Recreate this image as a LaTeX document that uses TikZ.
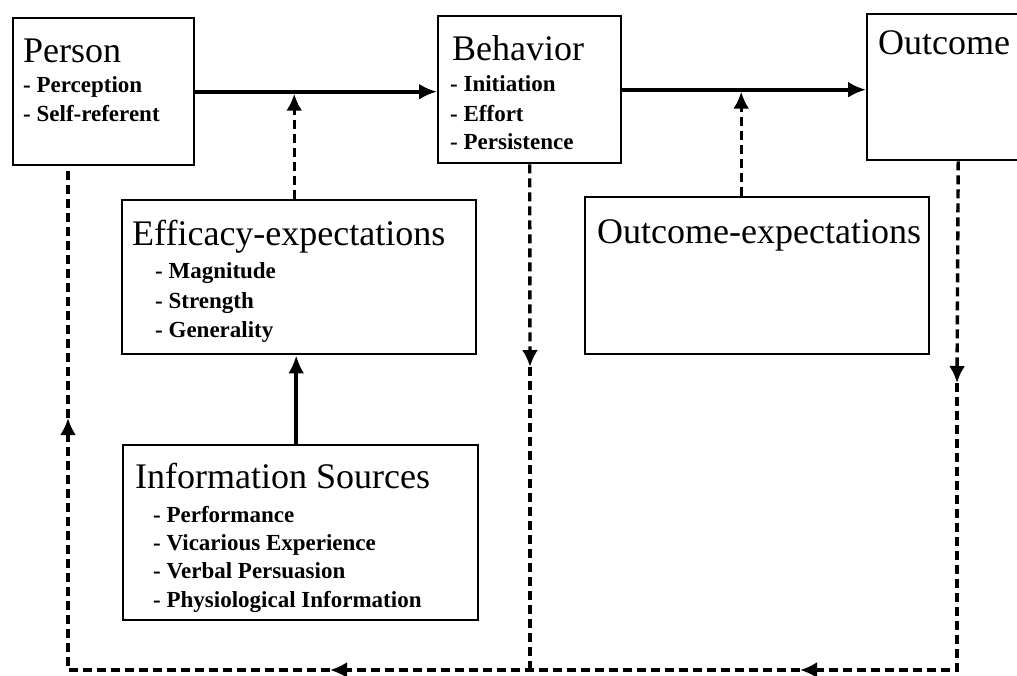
\documentclass[tikz,border=0pt]{standalone}
\usepackage{fontspec}
\setmainfont{Liberation Serif}
\usetikzlibrary{arrows.meta}
\begin{document}
\begin{tikzpicture}[x=1pt,y=-1pt,
  box/.style={draw=black, line width=2.4pt, rectangle, inner sep=0pt, anchor=north west},
  ttl/.style={anchor=base west, inner sep=0pt, font=\fontsize{36}{40}\selectfont},
  itm/.style={anchor=base west, inner sep=0pt, font=\fontsize{23}{26}\selectfont\bfseries},
  solidarrow/.style={line width=3.8pt, -{Latex[length=18pt,width=16pt]}},
  dashline/.style={line width=3.4pt, dash pattern=on 9pt off 5pt},
  dasharrow/.style={dashline, -{Latex[length=17pt,width=16pt]}},
]
\useasboundingbox (0,0) rectangle (1017,675);
\fill[white] (0,0) rectangle (1017,675);
\clip (0,0) rectangle (1017,675);

% boxes
\node[box, minimum width=181pt, minimum height=147pt] (person) at (12,17) {};
\node[box, minimum width=183pt, minimum height=147pt] (behavior) at (437,15) {};
\node[box, minimum width=182pt, minimum height=146pt] (outcome) at (866,13) {};
\node[box, minimum width=354pt, minimum height=154pt] (eff) at (121,199) {};
\node[box, minimum width=344pt, minimum height=157pt] (oexp) at (584,196) {};
\node[box, minimum width=355pt, minimum height=175pt] (info) at (122,444) {};

% texts
\node[ttl] (tperson) at (23,62) {Person};
\node[itm] (p1) at (23,92) {- Perception};
\node[itm] (p2) at (23,121) {- Self-referent};

\node[ttl] (tbeh) at (452,60) {Behavior};
\node[itm] (b1) at (450,91) {- Initiation};
\node[itm] (b2) at (450,121) {- Effort};
\node[itm] (b3) at (450,149) {- Persistence};

\node[ttl] (tout) at (878,54) {Outcome};

\node[ttl] (teff) at (132,245) {Efficacy-expectations};
\node[itm] (e1) at (155,278) {- Magnitude};
\node[itm] (e2) at (155,308) {- Strength};
\node[itm] (e3) at (155,337) {- Generality};

\node[ttl] (toexp) at (597,243) {Outcome-expectations};

\node[ttl] (tinfo) at (135,488) {Information Sources};
\node[itm] (i1) at (153,522) {- Performance};
\node[itm] (i2) at (153,550) {- Vicarious Experience};
\node[itm] (i3) at (153,578) {- Verbal Persuasion};
\node[itm] (i4) at (153,607) {- Physiological Information};

% main solid arrows
\draw[solidarrow] (person.east) -- (person.east -| behavior.west);
\draw[solidarrow] (behavior.east) -- (behavior.east -| outcome.west);
\draw[solidarrow] ([xshift=-4.5pt]info.north) -- ([xshift=-4.5pt]info.north |- eff.south);

% dashed influence arrows
\draw[dasharrow, shorten >=2pt] ([xshift=-5pt]eff.north) -- ([xshift=-5pt]eff.north |- person.east);
\draw[dasharrow, shorten >=2pt] ([xshift=-16pt]oexp.north) -- ([xshift=-16pt]oexp.north |- behavior.east);

% feedback loop
\coordinate (t1) at (957,383);
\coordinate (c1) at (957,670);
\coordinate (t2) at (800,670);
\coordinate (t5) at (530,367);
\coordinate (c2) at (530,670);
\coordinate (t3) at (330,670);
\coordinate (c3) at (68,670);
\coordinate (t4) at (68,418);
\coordinate (pb) at (68,164);

\draw[dasharrow] (outcome.south) -- (t1);
\draw[dasharrow] (t1) -- (c1) -- (t2);
\draw[dasharrow] (t2) -- (t3);
\draw[dasharrow] (t3) -- (c3) -- (t4);
\draw[dashline] (t4) -- (pb);
\draw[dasharrow] (behavior.south) -- (t5);
\draw[dashline] (t5) -- (c2);
\end{tikzpicture}
\end{document}
